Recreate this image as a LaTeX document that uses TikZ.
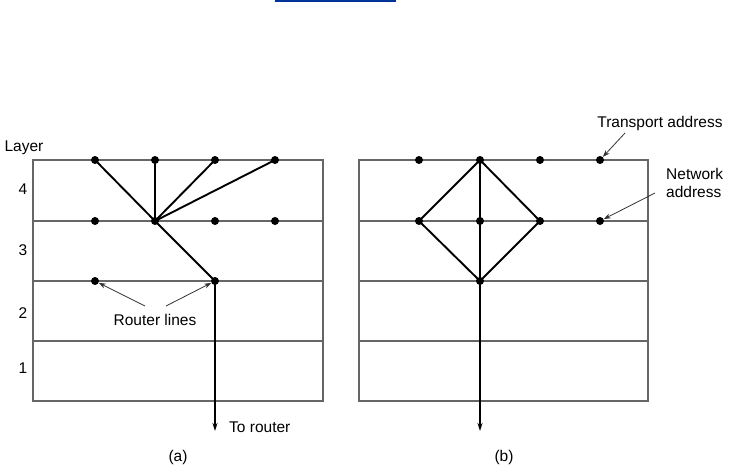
\documentclass[tikz,border=0pt]{standalone}
\usepackage{fontspec}
\setmainfont{Liberation Sans}
\usetikzlibrary{arrows.meta}
\definecolor{linkblue}{RGB}{0,51,153}
\begin{document}
\begin{tikzpicture}[x=1pt,y=-1pt,
 grid/.style={draw=black!60, line width=1.3pt},
 link/.style={draw=black, line width=1.9pt},
 dot/.style={circle, fill=black, inner sep=0pt, minimum size=8pt},
 lbl/.style={font=\fontsize{15.5}{18}\selectfont, inner sep=0pt},
 ptr/.style={draw=black!80, line width=0.8pt, -{Stealth[length=7pt,width=5pt]}},
 down/.style={link, -{Stealth[length=8pt,width=5pt]}}]
\useasboundingbox (0,0) rectangle (731,471);
% hyperlink bar
\fill[linkblue] (275,0) rectangle (396,2);

% ---------- (a) ----------
\draw[grid] (33,160) rectangle (323,401);
\foreach \y in {221,281,341} \draw[grid] (33,\y) -- (323,\y);
\node[dot] (a41) at (95,160) {};
\node[dot] (a42) at (155,160) {};
\node[dot] (a43) at (215,160) {};
\node[dot] (a44) at (275,160) {};
\node[dot] (a31) at (95,221) {};
\node[dot] (a32) at (155,221) {};
\node[dot] (a33) at (215,221) {};
\node[dot] (a34) at (275,221) {};
\node[dot] (a21) at (95,281) {};
\node[dot] (a23) at (215,281) {};
\coordinate (aout) at (215,431);
\draw[link] (a32.center) -- (a41.center);
\draw[link] (a32.center) -- (a42.center);
\draw[link] (a32.center) -- (a43.center);
\draw[link] (a32.center) -- (a44.center);
\draw[link] (a32.center) -- (a23.center);
\draw[down] (a23.center) -- (aout);

\node[lbl] (layer) at (24,148) {Layer};
\node[lbl] (n4) at (23,189) {4};
\node[lbl] (n3) at (23,250) {3};
\node[lbl] (n2) at (23,313) {2};
\node[lbl] (n1) at (23,368) {1};

\node[lbl] (rl) at (155,320) {Router lines};
\coordinate (rl1) at (145,306);
\coordinate (rl2) at (166,306);
\draw[ptr] (rl1) -- (a21);
\draw[ptr] (rl2) -- (a23);

\node[lbl, anchor=west] (tor) at (229,427) {To router};
\node[lbl] (capa) at (178,457) {(a)};

% ---------- (b) ----------
\draw[grid] (359,160) rectangle (648,401);
\foreach \y in {221,281,341} \draw[grid] (359,\y) -- (648,\y);
\node[dot] (b41) at (419,160) {};
\node[dot] (b42) at (480,160) {};
\node[dot] (b43) at (540,160) {};
\node[dot] (b44) at (600,160) {};
\node[dot] (b31) at (419,221) {};
\node[dot] (b32) at (480,221) {};
\node[dot] (b33) at (540,221) {};
\node[dot] (b34) at (600,221) {};
\node[dot] (b22) at (480,281) {};
\coordinate (bout) at (480,431);
\draw[link] (b42.center) -- (b31.center) -- (b22.center) -- (b33.center) -- cycle;
\draw[link] (b42.center) -- (b22.center);
\draw[down] (b22.center) -- (bout);

\node[lbl] (ta) at (660,123) {Transport address};
\coordinate (ta1) at (625,133);
\draw[ptr] (ta1) -- (b44);
\node[lbl, align=left, anchor=west] (na) at (666,182.5) {Network\\address};
\coordinate (na1) at (655,193);
\draw[ptr] (na1) -- (b34);

\node[lbl] (capb) at (504,457) {(b)};
\end{tikzpicture}
\end{document}
